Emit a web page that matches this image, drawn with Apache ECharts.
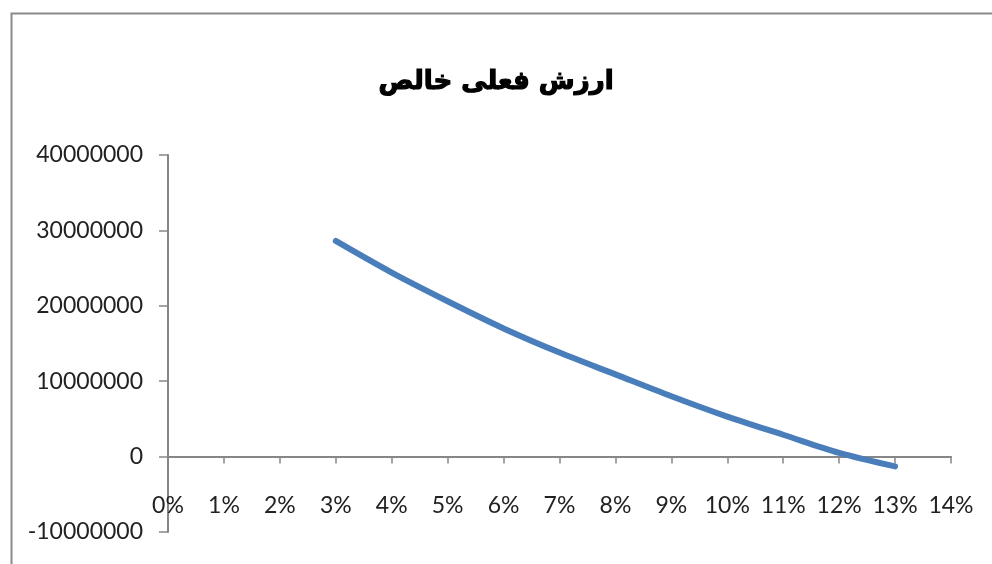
<!DOCTYPE html>
<html>
<head>
<meta charset="utf-8">
<script src="https://cdn.jsdelivr.net/npm/echarts@6/dist/echarts.min.js"></script>
<style>
  html, body { margin: 0; padding: 0; background: #fff; }
  #chart { width: 992px; height: 564px; }
</style>
</head>
<body>
<div id="chart"></div>
<script>
// Discount rates (x) and net present value at each rate (y)
const rates = [0.03, 0.04, 0.05, 0.06, 0.07, 0.08, 0.09, 0.10, 0.11, 0.12, 0.13];
const npv = [28600000, 24400000, 20600000, 17000000, 13800000, 10900000, 8000000, 5300000, 2900000, 500000, -1300000];
const chartTitle = 'ارزش فعلی خالص';

const axisGray = '#868686';
const labelFont = 'Lato, "Open Sans", sans-serif';

const chart = echarts.init(document.getElementById('chart'), null, { renderer: 'canvas' });

chart.setOption({
  backgroundColor: '#ffffff',
  animation: false,
  title: {
    text: chartTitle,
    left: 'center',
    top: 64,
    textStyle: {
      fontFamily: '"DejaVu Sans", sans-serif',
      fontWeight: 'bold',
      fontSize: 26,
      color: '#000',
      textBorderColor: '#000',
      textBorderWidth: 1.2
    }
  },
  graphic: [{
    type: 'rect',
    left: 9,
    top: 11,
    shape: { width: 1000, height: 600 },
    style: { fill: 'none', stroke: '#8a8a8a', lineWidth: 2 },
    silent: true
  }],
  grid: { left: 168, right: 41, top: 155, bottom: 32, outerBoundsMode: 'none', containLabel: false },
  xAxis: {
    type: 'value',
    min: 0,
    max: 0.14,
    interval: 0.01,
    axisLine: { onZero: true, lineStyle: { color: axisGray, width: 2 } },
    axisTick: { show: true, inside: false, length: 7, lineStyle: { color: axisGray, width: 1.5 } },
    splitLine: { show: false },
    axisLabel: {
      // labels sit just under the zero line, above the grid's bottom edge
      margin: -38,
      fontFamily: labelFont,
      fontSize: 23,
      color: '#222',
      formatter: v => Math.round(v * 100) + '%'
    }
  },
  yAxis: {
    type: 'value',
    min: -10000000,
    max: 40000000,
    interval: 10000000,
    axisLine: { show: true, onZero: false, lineStyle: { color: axisGray, width: 2 } },
    axisTick: { show: true, inside: false, length: 9, lineStyle: { color: axisGray, width: 1.5 } },
    splitLine: { show: false },
    axisLabel: {
      margin: 25,
      fontFamily: labelFont,
      fontSize: 23,
      color: '#222',
      formatter: v => String(v)
    }
  },
  series: [{
    type: 'line',
    data: rates.map((r, i) => [r, npv[i]]),
    smooth: 0.3,
    showSymbol: false,
    lineStyle: { color: '#4a7ebb', width: 6, cap: 'round' }
  }]
});
</script>
</body>
</html>
